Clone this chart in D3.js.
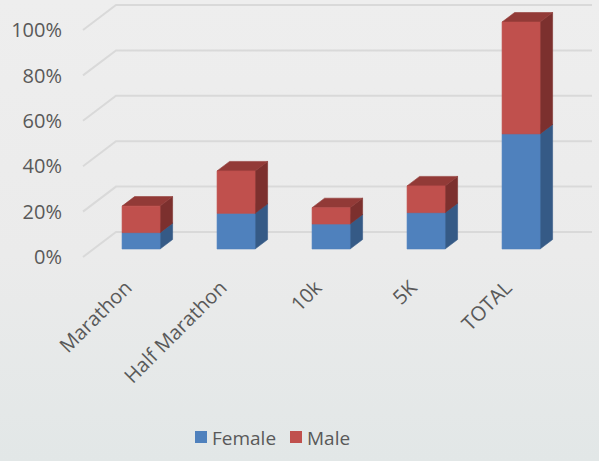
<!DOCTYPE html>
<html>
<head lang="en">
    <meta charset="UTF-8">
    <title>Runners by gender</title>
    <script type="text/javascript" src="https://cdn.jsdelivr.net/npm/d3@7"></script>
    <style>
        body { margin: 0; }
        text { font-family: "Open Sans", "Noto Sans", sans-serif; fill: #595959; }
    </style>
</head>
<body>
<svg id="mainSvg"></svg>
<script>
    var categories = ["Marathon", "Half Marathon", "10k", "5K", "TOTAL"];
    var female = [0.072, 0.157, 0.11, 0.16, 0.507];
    var male = [0.117, 0.187, 0.072, 0.118, 0.493];
    var yTicks = [0, 0.2, 0.4, 0.6, 0.8, 1.0];
    var seriesNames = ["Female", "Male"];

    var w = 599, h = 461;
    // depth of the 3d box, and where the bars sit inside it
    var dep = {x: 33, y: -25}, f0 = 0.32, f1 = 0.7;

    var svg = d3.select("#mainSvg").attr("width", w).attr("height", h);

    var grad = svg.append("defs").append("linearGradient")
            .attr("id", "bg").attr("x1", 0).attr("y1", 0).attr("x2", 0).attr("y2", 1);
    grad.append("stop").attr("offset", "0%").attr("stop-color", "#eeeeee");
    grad.append("stop").attr("offset", "55%").attr("stop-color", "#ebebeb");
    grad.append("stop").attr("offset", "100%").attr("stop-color", "#e2e7e7");
    svg.append("rect").attr("width", w).attr("height", h).attr("fill", "url(#bg)");

    var x = d3.scaleBand().domain(categories).range([83, 558]).paddingInner(0.6).paddingOuter(0.3);
    var y = d3.scaleLinear().domain([0, 1]).range([257, 30]);

    // gridlines on left and back wall
    svg.append("g")
            .selectAll("path")
            .data(yTicks)
            .enter()
            .append("path")
            .attr("d", function (d) {
                return "M83," + y(d) + "L" + (83 + dep.x) + "," + (y(d) + dep.y) + "H592";
            })
            .attr("fill", "none")
            .attr("stroke", "#d9d9d9")
            .attr("stroke-width", 2);

    svg.append("g")
            .selectAll("text")
            .data(yTicks)
            .enter()
            .append("text")
            .attr("x", 62)
            .attr("y", function (d) { return y(d); })
            .attr("dy", "0.36em")
            .attr("text-anchor", "end")
            .attr("font-size", 20)
            .text(d3.format(".0%"));

    // stacked segments
    var segs = [];
    categories.forEach(function (c, i) {
        segs.push({c: c, y0: 0, y1: female[i], front: "#4f81bd", side: "#355a86", top: "#3f6796"});
        segs.push({c: c, y0: female[i], y1: female[i] + male[i], front: "#c0504d", side: "#7c302e", top: "#923a37"});
    });

    function pts(arr) {
        return arr.map(function (p) { return p[0] + "," + p[1]; }).join(" ");
    }

    var g = svg.append("g").attr("stroke-width", 0.6).attr("stroke-linejoin", "round");
    segs.forEach(function (s) {
        var xa = x(s.c) + dep.x * f0, xb = xa + x.bandwidth();
        var ya = y(s.y0) + dep.y * f0, yb = y(s.y1) + dep.y * f0;
        var dx = dep.x * (f1 - f0), dy = dep.y * (f1 - f0);
        g.append("polygon")
                .attr("points", pts([[xb, ya], [xb + dx, ya + dy], [xb + dx, yb + dy], [xb, yb]]))
                .attr("fill", s.side).attr("stroke", s.side);
        g.append("polygon")
                .attr("points", pts([[xa, yb], [xa + dx, yb + dy], [xb + dx, yb + dy], [xb, yb]]))
                .attr("fill", s.top).attr("stroke", s.top);
        g.append("rect")
                .attr("x", xa).attr("y", yb)
                .attr("width", x.bandwidth()).attr("height", ya - yb)
                .attr("fill", s.front).attr("stroke", s.front);
    });

    // category labels
    svg.append("g")
            .selectAll("text")
            .data(categories)
            .enter()
            .append("text")
            .attr("transform", function (d) {
                var cx = x(d) + x.bandwidth() / 2 + dep.x * f0 - 8;
                return "translate(" + cx + ",289) rotate(-45)";
            })
            .attr("text-anchor", "end")
            .attr("font-size", 20)
            .text(function (d) { return d; });

    // legend
    var legend = svg.append("g")
            .selectAll("g")
            .data(seriesNames)
            .enter()
            .append("g")
            .attr("transform", function (d, i) { return "translate(" + (195 + i * 95) + ",431)"; });
    legend.append("rect")
            .attr("width", 12).attr("height", 12)
            .attr("fill", function (d, i) { return i ? "#c0504d" : "#4f81bd"; });
    legend.append("text")
            .attr("x", 17).attr("y", 13.5)
            .attr("font-size", 19)
            .text(function (d) { return d; });
</script>
</body>
</html>
